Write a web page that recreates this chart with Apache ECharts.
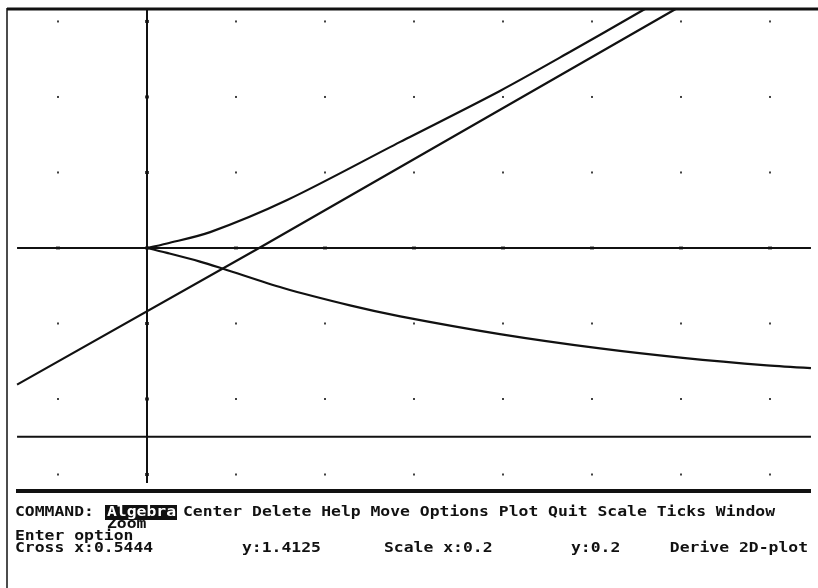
<!DOCTYPE html>
<html>
<head>
<meta charset="utf-8">
<script src="https://cdn.jsdelivr.net/npm/echarts@6/dist/echarts.min.js"></script>
<style>
html,body{margin:0;padding:0;background:#fff;}
#chart{width:818px;height:588px;}
</style>
</head>
<body>
<div id="chart"></div>
<script>
// ---- data (plot units) ----
const xTicks = [-0.2, 0, 0.2, 0.4, 0.6, 0.8, 1.0, 1.2, 1.4];
const yTicks = [-0.6, -0.4, -0.2, 0, 0.2, 0.4, 0.6];

const upperBranch = [[0,0],[0.045,0.012],[0.142,0.042],[0.315,0.127],[0.569,0.281],[0.793,0.416],[0.95,0.519],[1.119,0.633]];
const lowerBranch = [[0,0],[0.045,-0.013],[0.119,-0.036],[0.171,-0.055],[0.306,-0.106],[0.456,-0.152],[0.569,-0.181],[0.793,-0.228],[1.018,-0.266],[1.204,-0.291],[1.393,-0.311],[1.492,-0.318]];
const straightLine = [[-0.292,-0.362],[0.252,0],[1.188,0.633]];
const constLine = [[-0.292,-0.5],[1.492,-0.5]];
const xAxisLine = [[-0.292,0],[1.492,0]];
const yAxisLine = [[0,0.633],[0,-0.6225]];

const menuItems = ['Algebra','Center','Delete','Help','Move','Options','Plot','Quit','Scale','Ticks','Window','Zoom'];
const statusTexts = ['Cross x:0.5444','y:1.4125','Scale x:0.2','y:0.2','Derive 2D-plot'];

// ---- build ----
const dots = [], axisTicks = [];
xTicks.forEach(x => yTicks.forEach(y => {
  if (x === 0 || y === 0) axisTicks.push([x, y]); else dots.push([x, y]);
}));

const INK = '#111';
const FONT = 'bold 16.4px "DejaVu Sans Mono", "Liberation Mono", monospace';

const chart = echarts.init(document.getElementById('chart'), null, {renderer:'canvas'});

function lineSeries(data, w, smooth) {
  return {type:'line', data, symbol:'none', smooth: smooth || false, lineStyle:{color:INK, width:w}, silent:true, animation:false, z:3};
}

function txt(text, x, y, fill, align) {
  return {type:'text', x:x, y:y, scaleY:0.86,
    style:{text:text, x:0, y:0, font:FONT, fill:fill || INK, verticalAlign:'middle', align:align || 'left'}};
}

const graphic = [
  // frame
  {type:'line', shape:{x1:7,y1:9,x2:818,y2:9}, style:{stroke:INK, lineWidth:3}},
  {type:'line', shape:{x1:7,y1:8,x2:7,y2:588}, style:{stroke:INK, lineWidth:1.5}},
  {type:'line', shape:{x1:16,y1:491,x2:811,y2:491}, style:{stroke:INK, lineWidth:4}},
  // highlighted menu item
  {type:'rect', shape:{x:105,y:505,width:72,height:15}, style:{fill:INK}},
  txt(menuItems[0], 107, 512.5, '#fff'),
  txt('COMMAND:', 15, 512.5),
  txt(menuItems.slice(1,11).join(' '), 183, 512.5),
  txt(menuItems[11], 107, 524),
  txt('Enter option', 15, 536),
];
const statusX = [15, 242, 384, 571, 808];
statusTexts.forEach((t,i) => graphic.push(txt(t, statusX[i], 548.5, INK, i === 4 ? 'right' : 'left')));

chart.setOption({
  animation:false,
  backgroundColor:'#fff',
  grid:{left:7, top:9, right:7, bottom:97, show:false},
  xAxis:{type:'value', min:-0.3146, max:1.4921, show:false},
  yAxis:{type:'value', min:-0.6437, max:0.633, show:false},
  series:[
    {type:'scatter', data:dots, symbol:'rect', symbolSize:2, itemStyle:{color:INK}, silent:true, z:2},
    {type:'scatter', data:axisTicks, symbol:'rect', symbolSize:[4,3], itemStyle:{color:INK}, silent:true, z:2},
    lineSeries(xAxisLine, 2),
    lineSeries(yAxisLine, 2),
    lineSeries(constLine, 2),
    lineSeries(straightLine, 2.2),
    lineSeries(upperBranch, 2.2, 0.3),
    lineSeries(lowerBranch, 2.2, 0.3)
  ],
  graphic: graphic
});
</script>
</body>
</html>
